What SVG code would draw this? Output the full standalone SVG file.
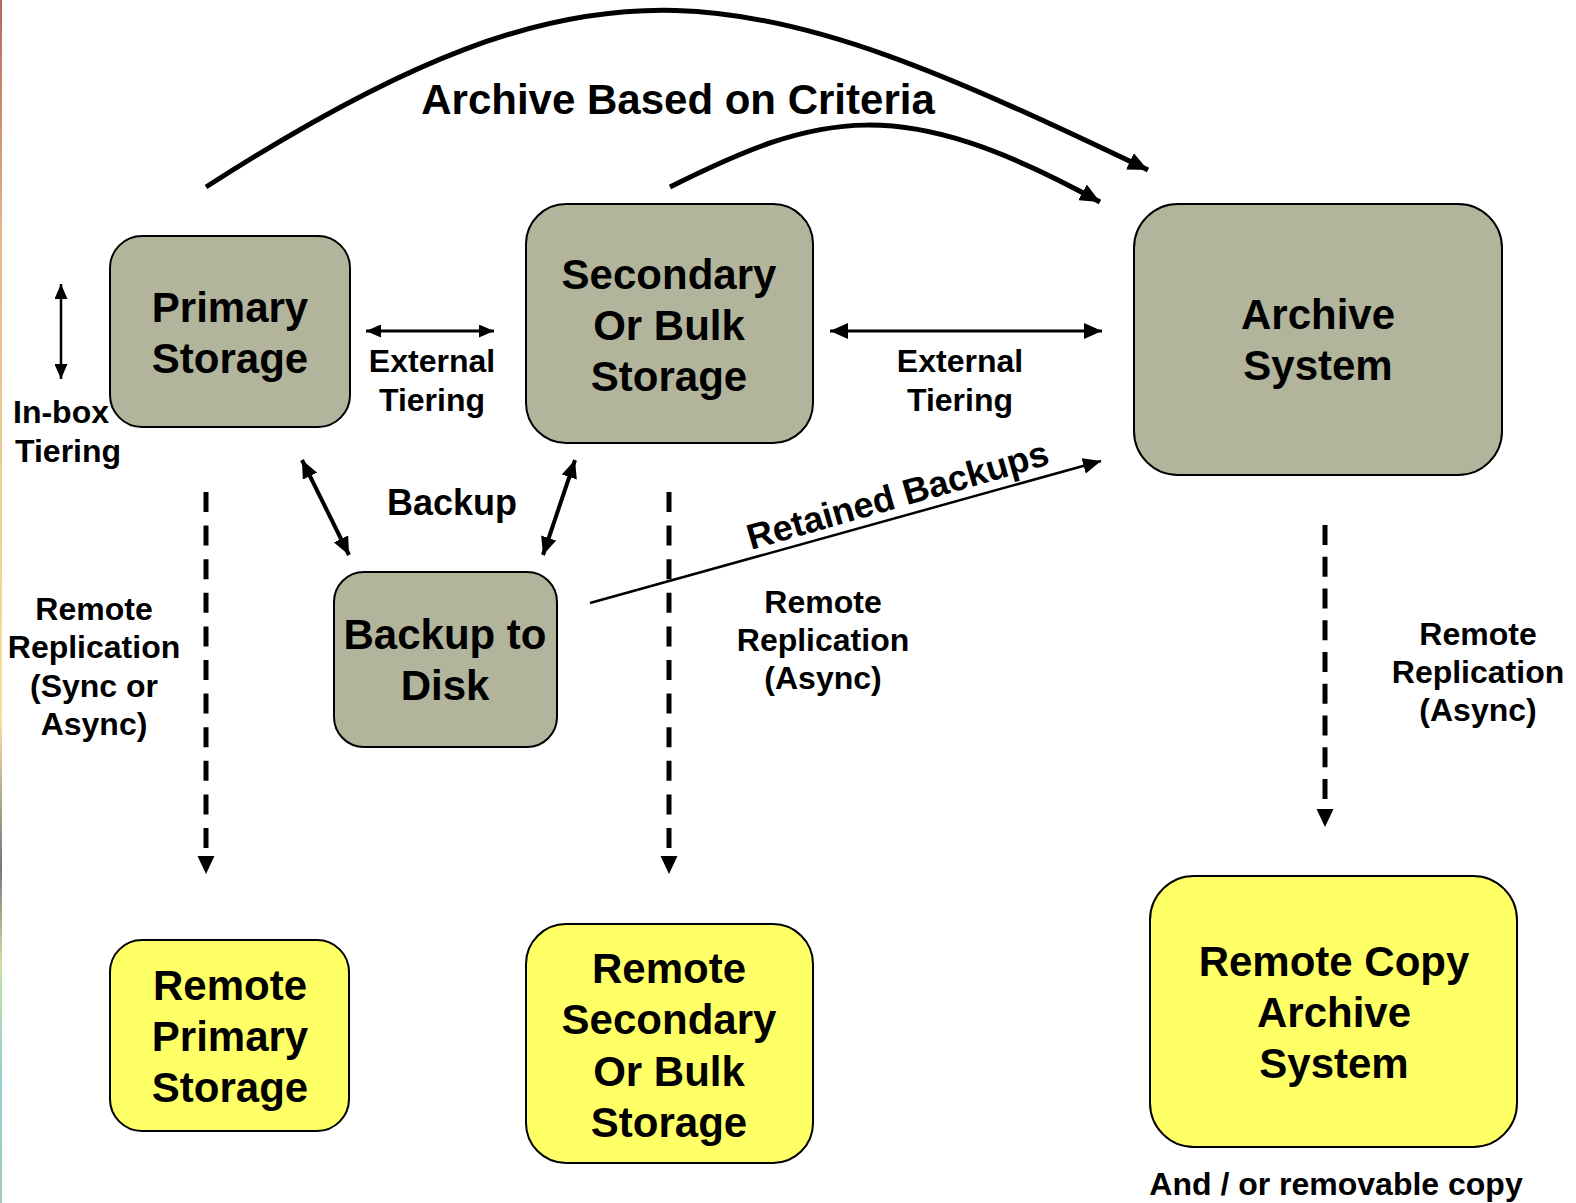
<svg xmlns="http://www.w3.org/2000/svg" width="1576" height="1203" viewBox="0 0 1576 1203">
<style>
  text { font-family: "Liberation Sans", Arial, Helvetica, sans-serif; font-weight: bold; fill: #000; text-anchor: middle; }
  .big { font-size: 42px; }
  .mid { font-size: 36px; }
  .sm { font-size: 32px; }
  .gray { fill: #b2b59b; stroke: #000; stroke-width: 2; }
  .yel { fill: #ffff66; stroke: #000; stroke-width: 2; }
  .c { fill: none; stroke: #000; }
  .dash { fill: none; stroke: #000; stroke-width: 5; stroke-dasharray: 20 13.6; }
  .head { fill: #000; }
</style>
<defs>
  <marker id="ahBig" viewBox="0 0 20 18" refX="20" refY="9" markerWidth="20" markerHeight="18" markerUnits="userSpaceOnUse" orient="auto-start-reverse">
    <path d="M0,0 L20,9 L0,18 Z" fill="#000"/>
  </marker>
  <marker id="ahMid" viewBox="0 0 18 16" refX="18" refY="8" markerWidth="18" markerHeight="16" markerUnits="userSpaceOnUse" orient="auto-start-reverse">
    <path d="M0,0 L18,8 L0,16 Z" fill="#000"/>
  </marker>
  <marker id="ahSm" viewBox="0 0 15 13" refX="15" refY="6.5" markerWidth="15" markerHeight="13" markerUnits="userSpaceOnUse" orient="auto-start-reverse">
    <path d="M0,0 L15,6.5 L0,13 Z" fill="#000"/>
  </marker>
  <linearGradient id="edge" x1="0" y1="0" x2="0" y2="1">
    <stop offset="0" stop-color="#b06a5a"/>
    <stop offset="0.2" stop-color="#e8b888"/>
    <stop offset="0.6" stop-color="#f5e0a0"/>
    <stop offset="0.72" stop-color="#777"/>
    <stop offset="0.8" stop-color="#c8e0a0"/>
    <stop offset="0.9" stop-color="#90d0d0"/>
    <stop offset="1" stop-color="#a0c8c0"/>
  </linearGradient>
</defs>
<rect x="0" y="0" width="1576" height="1203" fill="#fff"/>
<rect x="0" y="0" width="2" height="1203" fill="url(#edge)"/>

<g id="connectors">
  <path class="c" stroke-width="5" d="M206,187 C604,-69 747,-22 1148,170" marker-end="url(#ahBig)"/>
  <path class="c" stroke-width="5" d="M670,187 C820,112 900,92 1100,202" marker-end="url(#ahBig)"/>
  <line class="c" stroke-width="2.5" x1="61" y1="284" x2="61" y2="379" marker-start="url(#ahSm)" marker-end="url(#ahSm)"/>
  <line class="c" stroke-width="3" x1="366" y1="331" x2="494" y2="331" marker-start="url(#ahSm)" marker-end="url(#ahSm)"/>
  <line class="c" stroke-width="3" x1="830" y1="331" x2="1102" y2="331" marker-start="url(#ahMid)" marker-end="url(#ahMid)"/>
  <line class="c" stroke-width="4" x1="302" y1="460" x2="349" y2="555" marker-start="url(#ahMid)" marker-end="url(#ahMid)"/>
  <line class="c" stroke-width="4" x1="575" y1="460" x2="543" y2="555" marker-start="url(#ahMid)" marker-end="url(#ahMid)"/>
  <line class="c" stroke-width="2.5" x1="590" y1="603" x2="1101" y2="461" marker-end="url(#ahMid)"/>
  <line class="dash" x1="206" y1="492" x2="206" y2="848"/>
  <path class="head" d="M197.5,856 L214.5,856 L206,874 Z"/>
  <line class="dash" x1="669" y1="492" x2="669" y2="848"/>
  <path class="head" d="M660.5,856 L677.5,856 L669,874 Z"/>
  <line class="dash" x1="1325" y1="525" x2="1325" y2="799" style="stroke-dasharray:20 11.75"/>
  <path class="head" d="M1316.5,809 L1333.5,809 L1325,827 Z"/>
</g>

<g id="labels">
  <text class="big" x="678" y="114">Archive Based on Criteria</text>
  <text class="sm" x="432" y="372">External</text>
  <text class="sm" x="432" y="411">Tiering</text>
  <text class="sm" x="960" y="372">External</text>
  <text class="sm" x="960" y="411">Tiering</text>
  <text class="sm" x="13" y="423" style="text-anchor:start">In-box</text>
  <text class="sm" x="15" y="462" style="text-anchor:start">Tiering</text>
  <text class="mid" x="452" y="515">Backup</text>
  <text class="mid" transform="translate(901,507) rotate(-16)">Retained Backups</text>
  <text class="sm" x="94" y="620">Remote</text>
  <text class="sm" x="94" y="658">Replication</text>
  <text class="sm" x="94" y="697">(Sync or</text>
  <text class="sm" x="94" y="735">Async)</text>
  <text class="sm" x="823" y="613">Remote</text>
  <text class="sm" x="823" y="651">Replication</text>
  <text class="sm" x="823" y="689">(Async)</text>
  <text class="sm" x="1478" y="645">Remote</text>
  <text class="sm" x="1478" y="683">Replication</text>
  <text class="sm" x="1478" y="721">(Async)</text>
  <text class="sm" x="1336" y="1195">And / or removable copy</text>
</g>

<g id="primary-storage">
  <rect class="gray" x="110" y="236" width="240" height="191" rx="32"/>
  <text class="big" x="230" y="322">Primary</text>
  <text class="big" x="230" y="373">Storage</text>
</g>
<g id="secondary-storage">
  <rect class="gray" x="526" y="204" width="287" height="239" rx="40"/>
  <text class="big" x="669" y="289">Secondary</text>
  <text class="big" x="669" y="340">Or Bulk</text>
  <text class="big" x="669" y="391">Storage</text>
</g>
<g id="archive-system">
  <rect class="gray" x="1134" y="204" width="368" height="271" rx="44"/>
  <text class="big" x="1318" y="329">Archive</text>
  <text class="big" x="1318" y="380">System</text>
</g>
<g id="backup-to-disk">
  <rect class="gray" x="334" y="572" width="223" height="175" rx="30"/>
  <text class="big" x="445" y="649">Backup to</text>
  <text class="big" x="445" y="700">Disk</text>
</g>
<g id="remote-primary-storage">
  <rect class="yel" x="110" y="940" width="239" height="191" rx="32"/>
  <text class="big" x="230" y="1000">Remote</text>
  <text class="big" x="230" y="1051">Primary</text>
  <text class="big" x="230" y="1102">Storage</text>
</g>
<g id="remote-secondary-storage">
  <rect class="yel" x="526" y="924" width="287" height="239" rx="40"/>
  <text class="big" x="669" y="983">Remote</text>
  <text class="big" x="669" y="1034">Secondary</text>
  <text class="big" x="669" y="1086">Or Bulk</text>
  <text class="big" x="669" y="1137">Storage</text>
</g>
<g id="remote-copy-archive-system">
  <rect class="yel" x="1150" y="876" width="367" height="271" rx="44"/>
  <text class="big" x="1334" y="976">Remote Copy</text>
  <text class="big" x="1334" y="1027">Archive</text>
  <text class="big" x="1334" y="1078">System</text>
</g>
</svg>
